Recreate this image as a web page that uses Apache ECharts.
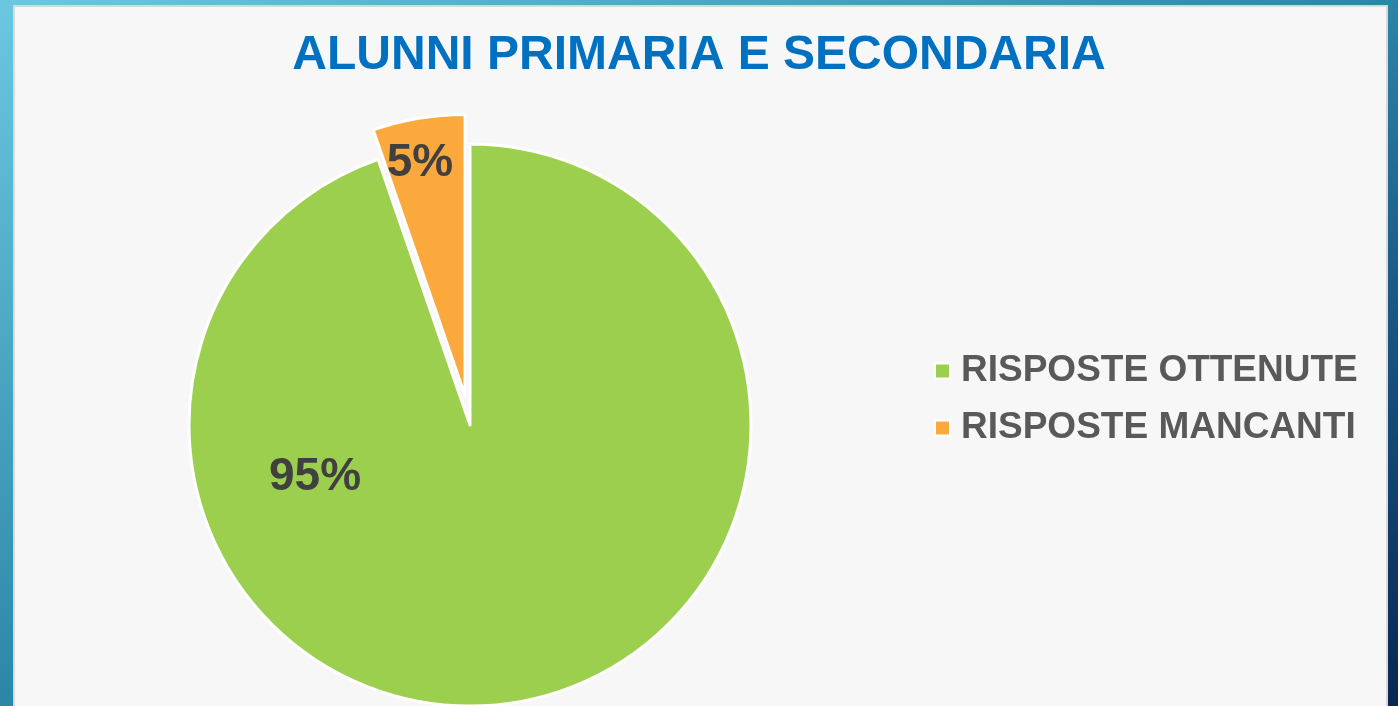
<!DOCTYPE html>
<html>
<head>
<meta charset="utf-8">
<script src="https://cdn.jsdelivr.net/npm/echarts@6/dist/echarts.min.js"></script>
<style>
  html, body { margin: 0; padding: 0; overflow: hidden; }
  #chart { width: 1398px; height: 706px; }
</style>
</head>
<body>
<div id="chart"></div>
<script>
const categories = ['RISPOSTE OTTENUTE', 'RISPOSTE MANCANTI']
const values = [94.7, 5.3]
const colors = ['#9dcf4e', '#fba93c']
// where the percentage labels sit (Excel "best fit")
const labelSpots = [[315, 477], [420, 163]]

const chart = echarts.init(document.getElementById('chart'))

const labelFont = {
  fontFamily: 'Liberation Sans, Arial, sans-serif',
  fontSize: 46,
  fontWeight: 'bold',
  color: '#404040'
}

const option = {
  backgroundColor: new echarts.graphic.LinearGradient(0, 0, 0.505, 1.98, [
    { offset: 0, color: '#6cc8e0' },
    { offset: 0.4, color: '#2c86a6' },
    { offset: 0.6, color: '#17527f' },
    { offset: 0.81, color: '#072650' },
    { offset: 1, color: '#041c44' }
  ]),
  graphic: [
    {
      type: 'rect',
      z: -1,
      shape: { x: 14, y: 6, width: 1373, height: 710 },
      style: { fill: '#f7f7f7', stroke: '#d8d8d8', lineWidth: 2 }
    }
  ],
  title: {
    text: 'ALUNNI PRIMARIA E SECONDARIA',
    left: 'center',
    top: 27,
    textStyle: {
      fontFamily: 'Liberation Sans, Arial, sans-serif',
      fontSize: 48,
      fontWeight: 'bold',
      color: '#0070c0'
    }
  },
  legend: {
    orient: 'vertical',
    left: 929,
    top: 346,
    icon: 'rect',
    itemWidth: 15,
    itemHeight: 15,
    itemGap: 17,
    selectedMode: false,
    data: categories,
    textStyle: {
      fontFamily: 'Liberation Sans, Arial, sans-serif',
      fontSize: 37,
      fontWeight: 'bold',
      color: '#595959',
      lineHeight: 40,
      padding: [0, 0, 0, 6]
    }
  },
  series: [
    {
      type: 'pie',
      center: [470, 425],
      radius: 281,
      startAngle: 90,
      clockwise: true,
      selectedMode: true,
      selectedOffset: 30,
      animation: false,
      emphasis: { disabled: true },
      itemStyle: { borderColor: '#ffffff', borderWidth: 3 },
      label: { show: false },
      labelLine: { show: false },
      data: categories.map((name, i) => ({
        name,
        value: values[i],
        selected: i === 1,
        itemStyle: { color: colors[i] }
      }))
    },
    {
      // label-only copy of the pie, so the labels can be placed freely
      type: 'pie',
      center: [470, 425],
      radius: 281,
      startAngle: 90,
      clockwise: true,
      silent: true,
      animation: false,
      z: 3,
      emphasis: { disabled: true },
      itemStyle: { color: 'rgba(0,0,0,0)', borderWidth: 0 },
      label: Object.assign({
        show: true,
        position: 'inside',
        formatter: p => Math.round(p.percent) + '%'
      }, labelFont),
      labelLine: { show: false },
      labelLayout: params => ({
        x: labelSpots[params.dataIndex][0],
        y: labelSpots[params.dataIndex][1],
        align: 'center',
        verticalAlign: 'middle'
      }),
      data: categories.map((name, i) => ({ name, value: values[i] }))
    }
  ]
}

chart.setOption(option)
</script>
</body>
</html>
